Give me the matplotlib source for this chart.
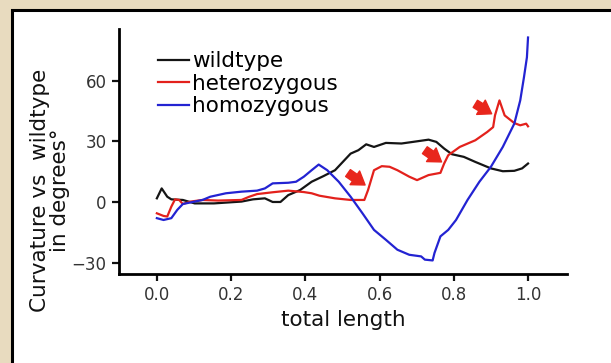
import matplotlib
matplotlib.use("Agg")
import matplotlib.pyplot as plt
from matplotlib.patches import Rectangle

# curves (fraction of total length, degrees)
wt_x = [0.0, 0.013, 0.028, 0.039, 0.070, 0.102, 0.154, 0.228, 0.259, 0.291, 0.312,
        0.333, 0.354, 0.386, 0.417, 0.449, 0.480, 0.501, 0.522, 0.543, 0.564, 0.585,
        0.617, 0.659, 0.690, 0.732, 0.753, 0.774, 0.795, 0.827, 0.858, 0.900, 0.932,
        0.963, 0.984, 1.0]
wt_y = [1.8, 6.7, 2.6, 1.3, 1.0, -0.7, -0.7, 0.2, 1.3, 1.8, 0.0,
        0.0, 3.4, 5.9, 10.0, 12.8, 15.7, 19.8, 23.9, 25.6, 28.5, 27.2,
        29.2, 28.9, 29.7, 30.8, 29.7, 26.4, 23.6, 22.3, 19.8, 16.6, 15.2,
        15.4, 16.6, 19.0]

het_x = [0.0, 0.018, 0.028, 0.039, 0.049, 0.060, 0.070, 0.091, 0.123, 0.165, 0.228,
         0.249, 0.270, 0.312, 0.354, 0.396, 0.417, 0.438, 0.480, 0.522, 0.559, 0.569,
         0.585, 0.606, 0.627, 0.648, 0.680, 0.701, 0.732, 0.764, 0.774, 0.785, 0.816,
         0.858, 0.890, 0.906, 0.911, 0.923, 0.937, 0.963, 0.979, 0.995, 1.0]
het_y = [-5.6, -6.9, -7.2, -2.3, 1.3, 1.0, -1.0, 0.2, 1.0, 0.7, 1.0,
         2.6, 3.9, 4.8, 5.6, 4.9, 4.3, 3.1, 1.8, 1.0, 1.0, 5.9,
         15.7, 17.7, 17.4, 15.7, 12.5, 10.8, 13.3, 14.4, 19.0, 23.1, 27.2,
         30.5, 34.6, 37.0, 42.8, 50.2, 42.8, 39.0, 37.9, 38.7, 37.4]

hom_x = [0.0, 0.018, 0.039, 0.055, 0.070, 0.102, 0.123, 0.144, 0.186, 0.228, 0.270,
         0.291, 0.312, 0.354, 0.375, 0.396, 0.417, 0.436, 0.459, 0.490, 0.522, 0.554,
         0.585, 0.617, 0.648, 0.680, 0.712, 0.722, 0.743, 0.748, 0.764, 0.785, 0.806,
         0.837, 0.869, 0.900, 0.932, 0.963, 0.979, 0.989, 0.997, 1.0]
hom_y = [-8.0, -8.9, -8.0, -3.9, -1.0, 0.2, 1.0, 2.6, 4.3, 5.1, 5.6,
         6.7, 9.2, 9.5, 10.0, 12.5, 15.7, 18.5, 15.7, 10.0, 2.6, -5.6,
         -13.8, -18.7, -23.6, -26.1, -26.9, -28.5, -28.9, -25.2, -17.0, -13.8, -8.9,
         1.0, 10.0, 17.4, 27.2, 38.7, 50.2, 61.6, 71.5, 81.3]

labels = ["wildtype", "heterozygous", "homozygous"]
colors = ["#151515", "#e3211c", "#2323d2"]

# red arrows marking steps in the heterozygous curve: (tail, tip)
arrows = [((0.515, 14.3), (0.561, 8.4)),
          ((0.722, 25.6), (0.767, 19.8)),
          ((0.858, 48.5), (0.902, 43.6))]

xticks = [0.0, 0.2, 0.4, 0.6, 0.8, 1.0]
yticks = [-30, 0, 30, 60]

fig = plt.figure(figsize=(6.11, 3.63), dpi=100)
fig.patch.set_facecolor("#e8dbbf")

# white panel with black border, behind the axes
panel = Rectangle((12 / 611, -0.05), 1.1, 1 - 10 / 363 + 0.05, transform=fig.transFigure,
                  facecolor="white", edgecolor="black", linewidth=2.2, zorder=-10)
fig.patches.append(panel)

ax = fig.add_axes([119 / 611, 1 - 274 / 363, 448 / 611, 245 / 363])
ax.set_facecolor("none")

for xs, ys, lab, col in zip([wt_x, het_x, hom_x], [wt_y, het_y, hom_y], labels, colors):
    ax.plot(xs, ys, color=col, linewidth=1.6, label=lab)

for tail, tip in arrows:
    ax.annotate("", xy=tip, xytext=tail,
                arrowprops=dict(arrowstyle="simple,head_width=1.0,head_length=0.75,tail_width=0.5",
                                color="#e8261c", shrinkA=0, shrinkB=0, mutation_scale=12))

ax.set_xlim(-0.102, 1.105)
ax.set_ylim(-35.6, 85.5)
ax.set_xticks(xticks)
ax.set_xticklabels(["%.1f" % t for t in xticks])
ax.set_yticks(yticks)
ax.tick_params(direction="out", length=5, width=1.6, labelsize=12, pad=4)
ax.tick_params(labelcolor="#333333", color="#111111")

for s in ["top", "right"]:
    ax.spines[s].set_visible(False)
for s in ["left", "bottom"]:
    ax.spines[s].set_linewidth(2)

ax.set_xlabel("total length", fontsize=15.5, labelpad=4, color="#111111")
fig.text(50 / 611, 1 - 190 / 363, "Curvature vs  wildtype\nin degrees°", rotation=90,
         ha="center", va="center", multialignment="center", fontsize=15.5, linespacing=0.95,
         color="#111111")

ax.legend(loc="upper left", bbox_to_anchor=(0.087, 0.91), frameon=False, fontsize=15.5,
          handlelength=1.45, handletextpad=0.15, labelspacing=0.12, borderpad=0,
          borderaxespad=0)

fig.savefig("out.png", dpi=100, facecolor=fig.get_facecolor())
